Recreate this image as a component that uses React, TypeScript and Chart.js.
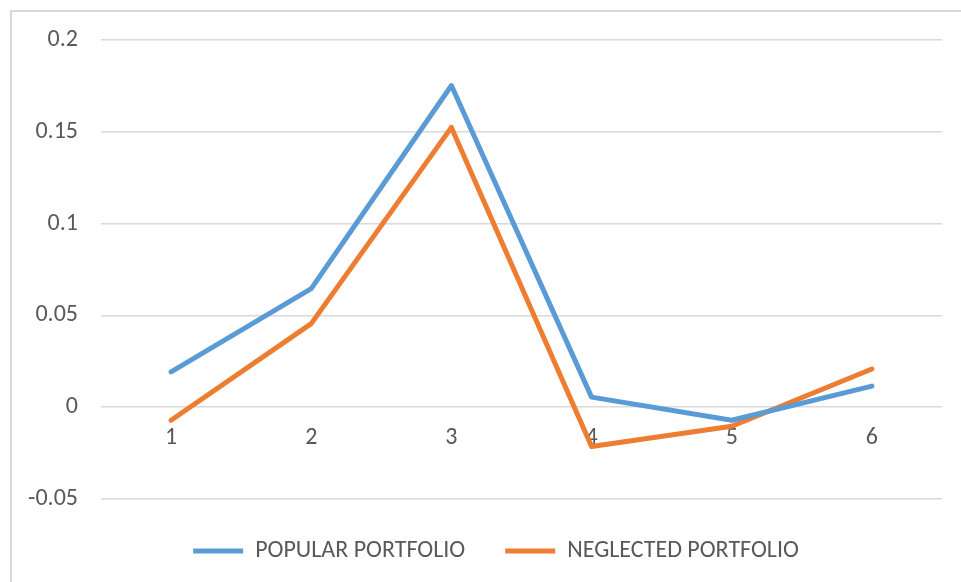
import React, { useEffect, useRef } from "react";
import { Chart, registerables } from "chart.js";

Chart.register(...registerables);

// ---- data ----
const categories: string[] = ["1", "2", "3", "4", "5", "6"];
const popularPortfolio: number[] = [0.0192, 0.0646, 0.1752, 0.0055, -0.0071, 0.0115];
const neglectedPortfolio: number[] = [-0.0071, 0.0455, 0.1524, -0.0214, -0.0104, 0.0208];
const seriesNames: string[] = ["POPULAR PORTFOLIO", "NEGLECTED PORTFOLIO"];
const seriesColors: string[] = ["#5B9BD5", "#ED7D31"];
const yMin = -0.05;
const yMax = 0.2;
const yStep = 0.05;

const FONT = "Calibri, Carlito, 'Liberation Sans', Arial, sans-serif";
const TEXT_COLOR = "#595959";
const GRID_COLOR = "#d9d9d9";
const LEGEND_SHIFT_X = 25;

const shiftLegendPlugin = {
  id: "shiftLegend",
  afterLayout(chart: any) {
    const l = chart.legend;
    if (l) {
      l.left += LEGEND_SHIFT_X;
      l.right += LEGEND_SHIFT_X;
    }
  },
};

export default function App() {
  const canvasRef = useRef<HTMLCanvasElement | null>(null);

  useEffect(() => {
    if (!canvasRef.current) return;
    const chart = new Chart(canvasRef.current, {
      type: "line",
      data: {
        labels: categories,
        datasets: [
          {
            label: seriesNames[0],
            data: popularPortfolio,
            borderColor: seriesColors[0],
            backgroundColor: seriesColors[0],
            borderWidth: 5,
            pointRadius: 0,
            tension: 0,
            borderCapStyle: "round",
            borderJoinStyle: "round",
          },
          {
            label: seriesNames[1],
            data: neglectedPortfolio,
            borderColor: seriesColors[1],
            backgroundColor: seriesColors[1],
            borderWidth: 5,
            pointRadius: 0,
            tension: 0,
            borderCapStyle: "round",
            borderJoinStyle: "round",
          },
        ],
      },
      options: {
        animation: false,
        responsive: false,
        maintainAspectRatio: false,
        devicePixelRatio: 1,
        layout: { padding: { left: 0, right: 19, top: 40, bottom: 9 } },
        scales: {
          x: {
            type: "category",
            position: { y: 0 } as any,
            offset: true,
            grid: { display: false },
            border: { display: false },
            ticks: {
              color: TEXT_COLOR,
              font: { family: FONT, size: 24 },
              padding: 8,
              maxRotation: 0,
            },
            afterFit: (s: any) => {
              s.height = 0;
            },
          },
          y: {
            min: yMin,
            max: yMax,
            grid: { color: GRID_COLOR, lineWidth: 1.5, drawTicks: false },
            border: { display: false },
            ticks: {
              stepSize: yStep,
              color: TEXT_COLOR,
              font: { family: FONT, size: 24 },
              padding: 23,
              callback: (v: any) => String(parseFloat(Number(v).toFixed(4))),
            },
            afterFit: (s: any) => {
              s.width = 101;
            },
          },
        },
        plugins: {
          legend: {
            position: "bottom",
            labels: {
              usePointStyle: true,
              pointStyle: "line",
              pointStyleWidth: 50,
              boxHeight: 5,
              padding: 40,
              color: TEXT_COLOR,
              font: { family: FONT, size: 24 },
            },
          },
          tooltip: { enabled: false },
        },
      },
      plugins: [shiftLegendPlugin],
    });
    return () => chart.destroy();
  }, []);

  return (
    <div
      style={{
        position: "fixed",
        left: 0,
        top: 0,
        width: 961,
        height: 582,
        background: "#ffffff",
        overflow: "hidden",
      }}
    >
      <div
        style={{
          position: "absolute",
          left: 10,
          top: 10,
          width: 1200,
          height: 1200,
          border: "2px solid #d9d9d9",
        }}
      />
      <canvas
        ref={canvasRef}
        width={961}
        height={582}
        style={{ position: "absolute", left: 0, top: 0, display: "block" }}
      />
    </div>
  );
}
